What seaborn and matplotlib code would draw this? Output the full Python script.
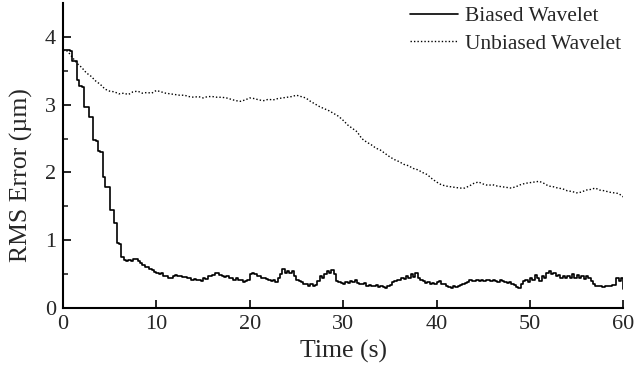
import numpy as np
import pandas as pd
import matplotlib
matplotlib.use("Agg")
import matplotlib.pyplot as plt
import seaborn as sns

# ---- data ----
biased_time = np.linspace(0, 60, 241)
biased_rms = [
    3.80, 3.81, 3.80, 3.79, 3.65, 3.64, 3.36, 3.27, 3.26, 2.97, 2.97, 2.82, 2.82, 2.48, 2.47, 2.31, 2.30, 1.94, 1.79, 1.78,
    1.45, 1.44, 1.26, 0.96, 0.95, 0.76, 0.71, 0.70, 0.71, 0.69, 0.73, 0.72, 0.70, 0.66, 0.64, 0.61, 0.60, 0.57, 0.56, 0.53,
    0.52, 0.50, 0.51, 0.48, 0.47, 0.44, 0.45, 0.47, 0.49, 0.47, 0.48, 0.46, 0.46, 0.44, 0.45, 0.42, 0.43, 0.41, 0.42, 0.40,
    0.44, 0.43, 0.47, 0.48, 0.49, 0.51, 0.52, 0.49, 0.48, 0.46, 0.47, 0.44, 0.44, 0.42, 0.44, 0.41, 0.42, 0.39, 0.40, 0.42,
    0.50, 0.52, 0.50, 0.48, 0.47, 0.45, 0.45, 0.43, 0.42, 0.40, 0.41, 0.39, 0.45, 0.50, 0.57, 0.52, 0.55, 0.51, 0.54, 0.48,
    0.42, 0.40, 0.38, 0.36, 0.35, 0.33, 0.35, 0.32, 0.34, 0.40, 0.48, 0.45, 0.50, 0.55, 0.52, 0.56, 0.50, 0.40, 0.38, 0.37,
    0.36, 0.39, 0.37, 0.40, 0.38, 0.41, 0.37, 0.36, 0.35, 0.37, 0.32, 0.34, 0.33, 0.32, 0.34, 0.31, 0.32, 0.31, 0.30, 0.33,
    0.34, 0.38, 0.40, 0.42, 0.41, 0.45, 0.43, 0.47, 0.44, 0.50, 0.46, 0.52, 0.45, 0.42, 0.40, 0.37, 0.38, 0.36, 0.37, 0.35,
    0.38, 0.40, 0.36, 0.35, 0.33, 0.31, 0.30, 0.32, 0.31, 0.33, 0.34, 0.36, 0.37, 0.39, 0.41, 0.40, 0.40, 0.41, 0.40, 0.42,
    0.40, 0.41, 0.42, 0.40, 0.41, 0.40, 0.39, 0.41, 0.40, 0.38, 0.37, 0.38, 0.36, 0.34, 0.31, 0.30, 0.36, 0.40, 0.41, 0.38,
    0.44, 0.42, 0.49, 0.44, 0.40, 0.47, 0.45, 0.52, 0.55, 0.50, 0.52, 0.47, 0.49, 0.45, 0.47, 0.44, 0.48, 0.45, 0.50, 0.44,
    0.49, 0.45, 0.48, 0.43, 0.47, 0.44, 0.40, 0.36, 0.33, 0.32, 0.33, 0.31, 0.32, 0.33, 0.32, 0.34, 0.34, 0.45, 0.40, 0.44,
    0.28,
]

unbiased_time = np.linspace(0, 60, 121)
unbiased_rms = [
    3.80, 3.79, 3.70, 3.61, 3.55, 3.47, 3.42, 3.35, 3.30, 3.23,
    3.20, 3.19, 3.16, 3.17, 3.15, 3.19, 3.20, 3.17, 3.18, 3.17,
    3.21, 3.19, 3.17, 3.16, 3.15, 3.14, 3.14, 3.12, 3.11, 3.12,
    3.10, 3.12, 3.12, 3.11, 3.11, 3.10, 3.08, 3.06, 3.05, 3.07,
    3.10, 3.09, 3.07, 3.06, 3.08, 3.07, 3.09, 3.10, 3.11, 3.12,
    3.14, 3.12, 3.10, 3.05, 3.01, 2.97, 2.94, 2.91, 2.87, 2.83,
    2.77, 2.70, 2.65, 2.60, 2.50, 2.45, 2.41, 2.36, 2.33, 2.28,
    2.23, 2.19, 2.16, 2.12, 2.10, 2.06, 2.04, 2.00, 1.97, 1.91,
    1.86, 1.82, 1.80, 1.79, 1.78, 1.77, 1.77, 1.80, 1.84, 1.86,
    1.83, 1.81, 1.82, 1.80, 1.79, 1.78, 1.77, 1.79, 1.82, 1.84,
    1.85, 1.86, 1.87, 1.84, 1.80, 1.79, 1.77, 1.76, 1.73, 1.72,
    1.70, 1.71, 1.74, 1.75, 1.77, 1.74, 1.73, 1.71, 1.70, 1.69,
    1.64,
]

x_ticks = [0, 10, 20, 30, 40, 50, 60]
y_ticks = [0, 1, 2, 3, 4]
series_names = ["Biased Wavelet", "Unbiased Wavelet"]
x_label = "Time (s)"
y_label = "RMS Error (µm)"

df_b = pd.DataFrame({"t": biased_time, "rms": biased_rms})
df_u = pd.DataFrame({"t": unbiased_time, "rms": unbiased_rms})

# ---- style ----
sns.set_style("ticks")
plt.rcParams["font.family"] = ["Liberation Serif", "DejaVu Serif"]

fig = plt.figure(figsize=(6.36, 3.78), dpi=100)
ax = fig.add_axes([0.099, 0.185, 0.881, 0.807])

dot_style = (0, (1.0, 1.5))
sns.lineplot(data=df_b, x="t", y="rms", ax=ax, color="black", linewidth=1.2,
             drawstyle="steps-post", label=series_names[0], estimator=None)
sns.lineplot(data=df_u, x="t", y="rms", ax=ax, color="black", linewidth=1.0,
             label=series_names[1], estimator=None)
ax.lines[1].set_linestyle(dot_style)

ax.set_xlim(0, 60)
ax.set_ylim(0, 4.5)
ax.set_xticks(x_ticks)
ax.set_yticks(y_ticks)
ax.set_yticks([0.5, 1.5, 2.5, 3.5], minor=True)
ax.tick_params(axis="both", which="major", direction="in", length=6, width=1.2,
               labelsize=16, pad=5, color="black")
ax.tick_params(axis="y", which="minor", direction="in", length=3.5, width=1.2)
ax.set_xlabel(x_label, fontsize=18.5, labelpad=4)
ax.set_ylabel(y_label, fontsize=18.5)
ax.yaxis.set_label_coords(-0.053, 0.436)
for s in ["top", "right"]:
    ax.spines[s].set_visible(False)
for s in ["left", "bottom"]:
    ax.spines[s].set_linewidth(1.5)
    ax.spines[s].set_color("black")

leg = ax.legend(loc="upper right", bbox_to_anchor=(1.012, 1.018), frameon=False,
                fontsize=15.5, handlelength=2.2, handletextpad=0.35,
                labelspacing=0.35, borderaxespad=0)
leg.get_lines()[1].set_linestyle(dot_style)
leg.get_lines()[1].set_linewidth(1.0)

fig.savefig("out.png", dpi=100)
